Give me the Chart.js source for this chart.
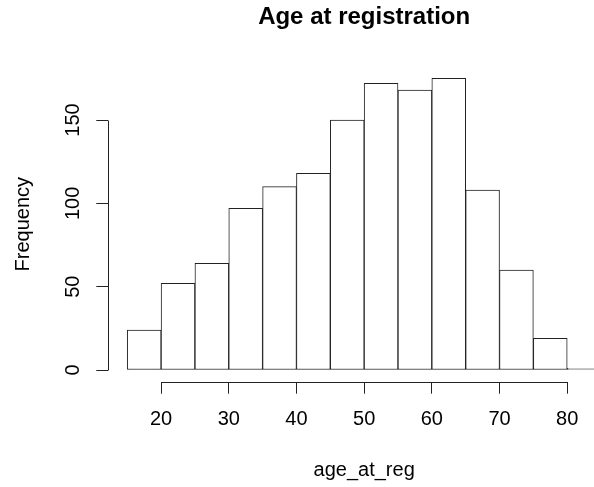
<!DOCTYPE html>
<html>
<head>
<meta charset="utf-8">
<script src="https://cdn.jsdelivr.net/npm/chart.js@4/dist/chart.umd.min.js"></script>
<style>
  html, body { margin: 0; padding: 0; background: #fff; overflow: hidden; width: 594px; height: 487px; }
  #wrap { width: 700px; height: 487px; }
</style>
</head>
<body>
<div id="wrap"><canvas id="c" width="700" height="487"></canvas></div>
<script>
// Histogram data (bins of width 5)
const binStarts = [15, 20, 25, 30, 35, 40, 45, 50, 55, 60, 65, 70, 75, 80];
const binWidth = 5;
const counts = [24, 52, 64, 97, 110, 118, 150, 172, 168, 175, 108, 60, 19, 1];
const xTicks = [20, 30, 40, 50, 60, 70, 80];
const yTicks = [0, 50, 100, 150];
const titleText = 'Age at registration';
const xTitle = 'age_at_reg';
const yTitle = 'Frequency';

const FONT = "'Liberation Sans', Arial, Helvetica, sans-serif";
const LINE = '#222';

const points = binStarts.map((s, i) => ({ x: s + binWidth / 2, y: counts[i] }));

const xMin = binStarts[0], xMax = binStarts[binStarts.length - 1] + binWidth;
const xExt = (xMax - xMin) * 0.04;
const yMaxV = Math.max(...counts);
const yExt = yMaxV * 0.04;

const axisLines = {
  id: 'axisLines',
  afterDraw(chart) {
    const ctx = chart.ctx;
    const xs = chart.scales.x, ys = chart.scales.y;
    ctx.save();
    ctx.strokeStyle = LINE;
    ctx.lineWidth = 1;
    ctx.beginPath();
    const yb = Math.round(ys.bottom) + 0.5;
    ctx.moveTo(Math.round(xs.getPixelForValue(xTicks[0])) + 0.5, yb);
    ctx.lineTo(Math.round(xs.getPixelForValue(xTicks[xTicks.length - 1])) + 0.5, yb);
    const xl = Math.round(xs.left) + 0.5;
    ctx.moveTo(xl, Math.round(ys.getPixelForValue(yTicks[0])) + 0.5);
    ctx.lineTo(xl, Math.round(ys.getPixelForValue(yTicks[yTicks.length - 1])) + 0.5);
    ctx.stroke();
    ctx.restore();
  }
};

new Chart(document.getElementById('c'), {
  type: 'bar',
  data: {
    datasets: [{
      data: points,
      backgroundColor: '#ffffff',
      borderColor: LINE,
      borderWidth: 1,
      borderSkipped: false,
      barPercentage: 1,
      categoryPercentage: 1
    }]
  },
  options: {
    responsive: false,
    animation: false,
    devicePixelRatio: 1,
    layout: { padding: { left: 0, right: 80, top: 0, bottom: 0 } },
    plugins: {
      legend: { display: false },
      tooltip: { enabled: false },
      title: {
        display: true,
        text: titleText,
        fullSize: false,
        color: '#000',
        font: { family: FONT, size: 24, weight: 'bold' },
        padding: { top: 3.3, bottom: 34.6 }
      }
    },
    scales: {
      x: {
        type: 'linear',
        offset: false,
        min: xMin - xExt,
        max: xMax + xExt,
        afterBuildTicks: (s) => { s.ticks = xTicks.map(v => ({ value: v })); },
        afterFit: (s) => { s.height = 105.3; },
        border: { display: false },
        grid: { offset: false, drawOnChartArea: false, drawTicks: true, tickLength: 12, color: LINE, lineWidth: 1 },
        ticks: { color: '#000', font: { family: FONT, size: 20 }, padding: 14, maxRotation: 0, autoSkip: false },
        title: { display: true, text: xTitle, color: '#000', font: { family: FONT, size: 20 }, padding: { top: 0, bottom: 5 } }
      },
      y: {
        type: 'linear',
        min: -yExt,
        max: yMaxV + yExt,
        afterBuildTicks: (s) => { s.ticks = yTicks.map(v => ({ value: v })); },
        afterFit: (s) => { s.width = 108.3; },
        border: { display: false },
        grid: { offset: false, drawOnChartArea: false, drawTicks: true, tickLength: 12, color: LINE, lineWidth: 1 },
        ticks: { color: '#000', font: { family: FONT, size: 20 }, padding: 6.6, minRotation: 90, maxRotation: 90, crossAlign: 'center', autoSkip: false },
        title: { display: true, text: yTitle, color: '#000', font: { family: FONT, size: 20 }, padding: { top: 11, bottom: 0 } }
      }
    }
  },
  plugins: [axisLines]
});
</script>
</body>
</html>
